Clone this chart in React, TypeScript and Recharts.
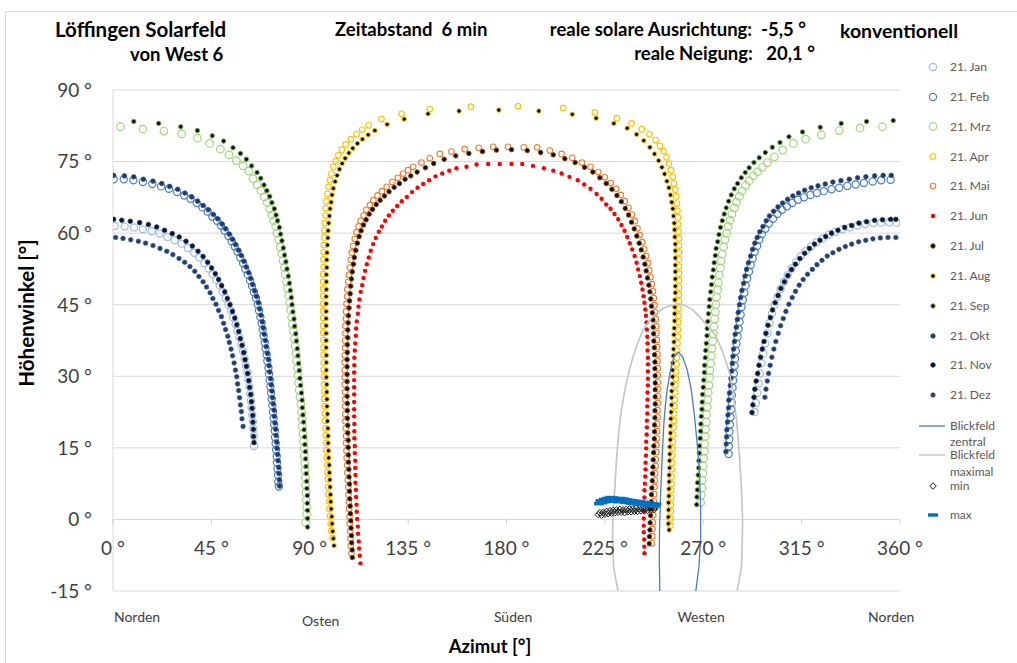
import { ScatterChart, Scatter, XAxis, YAxis, CartesianGrid } from 'recharts';

type Pt = [number, number];

// Sonnenbahnen, je [Azimut, Höhenwinkel]
const janLeft: Pt[] = [[0.8,61.5],[5.3,61.4],[9.6,61.2],[13.7,60.8],[17.7,60.4],[21.3,59.9],[24.9,59.2],[28.2,58.5],[31.4,57.8],[34.3,56.9],[37.1,55.9],[39.5,54.9],[41.8,53.7],[43.8,52.6],[45.6,51.4],[47.3,50.2],[48.8,49.0],[50.2,47.7],[51.5,46.4],[52.8,45.0],[54.0,43.7],[55.0,42.3],[56.1,40.9],[57.0,39.5],[57.9,38.1],[58.7,36.6],[59.5,35.2],[60.2,33.7],[60.8,32.2],[61.5,30.8],[61.9,29.3],[62.4,27.8],[62.8,26.3],[63.1,24.9],[63.4,23.4],[63.7,21.9],[64.0,20.5],[64.2,19.0],[64.4,17.5],[64.5,15.4]];
const janRight: Pt[] = [[293.5,22.5],[294.1,24.4],[294.7,26.5],[295.3,28.5],[295.9,30.6],[296.7,32.7],[297.4,34.8],[298.4,36.9],[299.3,39.0],[300.3,41.1],[301.4,43.1],[302.6,45.0],[304.0,46.7],[305.4,48.3],[306.9,49.8],[308.6,51.2],[310.4,52.6],[312.4,53.9],[314.5,55.1],[316.8,56.2],[319.3,57.2],[321.8,58.1],[324.6,58.9],[327.5,59.7],[330.5,60.3],[333.7,60.8],[337.1,61.2],[340.6,61.6],[344.1,61.9],[347.8,62.1],[351.4,62.2],[355.1,62.3],[358.4,62.2]];

const febLeft: Pt[] = [[0.3,71.3],[4.9,71.3],[9.3,71.1],[13.7,70.7],[18.0,70.3],[22.0,69.8],[25.6,69.3],[29.3,68.6],[32.6,67.9],[35.5,67.2],[38.3,66.3],[40.9,65.4],[43.3,64.5],[45.4,63.5],[47.6,62.6],[49.4,61.6],[51.1,60.5],[52.8,59.4],[54.3,58.3],[55.7,57.2],[57.0,56.1],[58.2,54.9],[59.5,53.7],[60.5,52.5],[61.6,51.3],[62.7,50.1],[63.6,48.9],[64.5,47.6],[65.4,46.4],[66.2,45.1],[66.8,43.8],[67.4,42.4],[68.0,41.1],[68.5,39.8],[68.9,38.5],[69.4,37.1],[69.8,35.8],[70.3,34.5],[70.6,33.2],[71.1,31.8],[71.4,30.5],[71.7,29.2],[72.0,27.8],[72.3,26.5],[72.6,25.2],[72.9,23.9],[73.2,22.5],[73.5,21.2],[73.7,19.9],[74.0,18.6],[74.1,17.2],[74.4,15.9],[74.6,14.6],[74.9,13.2],[75.0,11.9],[75.2,10.6],[75.5,9.3],[75.6,7.9],[75.9,6.9]];
const febRight: Pt[] = [[281.6,13.7],[281.7,15.3],[281.9,16.8],[282.0,18.4],[282.2,19.9],[282.5,21.4],[282.7,23.0],[283.0,24.5],[283.1,26.0],[283.4,27.6],[283.7,29.1],[284.0,30.6],[284.3,32.2],[284.6,33.7],[284.9,35.3],[285.2,36.8],[285.7,38.3],[286.2,39.9],[286.6,41.4],[287.1,42.9],[287.5,44.5],[288.1,46.0],[288.8,47.5],[289.4,49.0],[290.1,50.5],[290.9,51.9],[291.7,53.3],[292.6,54.7],[293.5,56.1],[294.6,57.3],[295.6,58.6],[296.8,59.8],[298.4,60.9],[300.0,62.0],[301.9,63.0],[303.9,64.0],[306.0,64.9],[308.3,65.6],[310.7,66.3],[313.3,67.0],[316.1,67.5],[319.0,68.0],[322.0,68.4],[325.2,68.8],[328.7,69.2],[332.2,69.5],[335.9,69.9],[339.7,70.2],[343.5,70.5],[347.5,70.8],[351.4,71.1],[355.7,71.2]];

const mrzLeft: Pt[] = [[3.4,82.3],[13.7,81.8],[23.3,81.4],[31.4,80.8],[38.6,79.9],[44.2,78.8],[49.1,77.6],[53.1,76.4],[56.4,75.2],[59.5,74.1],[62.1,73.0],[64.0,71.4],[65.9,70.1],[67.7,68.9],[69.2,67.6],[70.6,66.4],[71.7,65.1],[72.7,63.8],[73.5,62.6],[74.4,61.4],[75.0,60.0],[75.8,58.6],[76.5,57.1],[77.2,55.7],[77.8,54.2],[78.4,52.8],[78.8,51.4],[79.4,49.8],[79.9,48.4],[80.4,46.9],[80.8,45.4],[81.3,43.9],[81.7,42.4],[82.0,40.9],[82.5,39.4],[83.0,37.8],[83.3,36.3],[83.7,34.8],[84.0,33.2],[84.3,31.7],[84.6,30.2],[84.9,28.6],[85.2,27.1],[85.5,25.6],[85.9,24.1],[86.2,22.5],[86.5,21.0],[86.6,19.5],[86.9,17.9],[87.1,16.4],[87.4,14.9],[87.5,13.3],[87.7,11.8],[87.8,10.3],[88.0,8.7],[88.1,7.2],[88.3,5.6],[88.4,4.1],[88.6,2.6],[88.6,1.1],[88.1,-0.6]];
const mrzRight: Pt[] = [[268.8,3.5],[269.1,5.1],[269.4,6.6],[269.5,8.2],[269.8,9.7],[270.0,11.2],[270.2,12.8],[270.5,14.3],[270.6,15.8],[270.9,17.4],[271.1,18.9],[271.4,20.4],[271.5,22.0],[271.8,23.5],[272.1,25.1],[272.3,26.6],[272.6,28.1],[272.9,29.7],[273.0,31.2],[273.4,32.7],[273.7,34.3],[274.0,35.8],[274.3,37.3],[274.6,38.9],[274.9,40.4],[275.2,42.0],[275.5,43.5],[275.8,45.0],[276.1,46.6],[276.6,48.1],[276.9,49.6],[277.3,51.2],[277.8,52.7],[278.2,54.2],[278.7,55.6],[279.3,57.1],[279.9,58.6],[280.7,60.0],[281.4,61.4],[282.2,62.7],[283.1,64.0],[284.2,65.3],[285.2,66.5],[286.5,67.7],[287.8,68.8],[289.4,70.0],[291.0,71.0],[292.9,72.0],[294.9,72.9],[297.0,73.8],[299.4,74.8],[302.5,76.0],[306.3,77.4],[311.2,78.8],[316.8,79.7],[324.0,80.6],[332.2,81.5],[341.7,82.0],[352.0,82.3]];

const aprPath: Pt[] = [[100.4,-3.9],[99.9,-2.4],[99.6,-0.9],[99.3,0.7],[99.0,2.2],[98.9,3.8],[98.6,5.3],[98.4,6.8],[98.3,8.4],[98.1,9.9],[98.0,11.4],[97.8,13.0],[97.6,14.5],[97.5,16.0],[97.3,17.6],[97.2,19.1],[97.0,20.7],[97.0,22.2],[96.9,23.7],[96.7,25.3],[96.7,26.8],[96.6,28.3],[96.6,29.9],[96.4,31.4],[96.4,32.9],[96.3,34.5],[96.3,36.0],[96.3,37.6],[96.1,39.1],[96.1,40.6],[96.1,42.2],[96.1,43.7],[96.1,45.2],[96.1,46.8],[96.1,48.3],[96.1,49.8],[96.1,51.4],[96.3,52.9],[96.3,54.5],[96.4,56.0],[96.4,57.5],[96.6,59.1],[96.7,60.6],[96.9,62.1],[97.2,63.7],[97.3,65.2],[97.6,66.7],[98.1,68.2],[98.6,69.7],[99.2,71.1],[99.9,72.5],[100.8,73.9],[101.9,75.1],[103.1,76.3],[104.7,77.5],[106.5,78.6],[108.8,79.7],[111.4,80.7],[114.0,81.7],[117.0,82.6],[122.8,83.9],[132.0,85.0],[144.9,86.0],[163.7,86.5],[185.3,86.6],[205.9,86.2],[220.4,85.3],[230.5,84.1],[237.2,83.0],[241.9,81.8],[245.4,80.7],[248.2,79.5],[250.2,78.3],[251.8,77.2],[253.2,75.9],[254.3,74.6],[255.2,73.2],[256.0,71.8],[256.6,70.4],[257.2,69.1],[257.6,67.7],[258.0,66.2],[258.2,64.7],[258.4,63.3],[258.5,61.8],[258.7,60.3],[258.9,58.9],[258.9,57.4],[258.9,55.9],[258.9,54.5],[258.9,53.0],[258.9,51.5],[258.9,50.1],[258.9,48.6],[258.9,47.1],[258.9,45.7],[258.7,44.2],[258.7,42.7],[258.5,41.3],[258.5,39.8],[258.4,38.3],[258.2,36.9],[258.1,35.4],[257.9,33.9],[257.8,32.5],[257.6,31.0],[257.5,29.5],[257.3,28.1],[257.2,26.6],[257.0,25.1],[256.9,23.7],[256.7,22.2],[256.6,20.7],[256.4,19.3],[256.3,17.8],[256.1,16.3],[256.0,14.9],[255.8,13.4],[255.8,11.9],[255.6,10.5],[255.5,9.0],[255.5,7.5],[255.3,6.1],[255.3,4.6],[255.2,3.1],[255.2,1.7],[255.0,0.2],[255.0,-1.3]];

const maiPath: Pt[] = [[109.1,-7.1],[108.8,-5.5],[108.6,-4.0],[108.5,-2.5],[108.3,-0.9],[108.2,0.6],[108.0,2.2],[107.9,3.7],[107.7,5.2],[107.6,6.8],[107.4,8.3],[107.2,9.8],[107.1,11.4],[106.9,12.9],[106.8,14.4],[106.6,16.0],[106.6,17.5],[106.5,19.1],[106.3,20.6],[106.3,22.1],[106.2,23.7],[106.2,25.2],[106.2,26.7],[106.0,28.3],[106.0,29.8],[106.0,31.3],[106.0,32.9],[106.0,34.4],[106.2,36.0],[106.2,37.5],[106.3,39.0],[106.3,40.6],[106.5,42.1],[106.6,43.6],[106.8,45.2],[107.1,46.7],[107.2,48.2],[107.6,49.8],[107.9,51.3],[108.3,52.8],[108.8,54.4],[109.2,55.9],[109.8,57.3],[110.6,58.8],[111.4,60.2],[112.3,61.4],[113.3,62.6],[114.6,63.7],[115.9,64.9],[117.5,65.9],[119.1,66.9],[121.0,67.9],[123.0,68.8],[125.2,69.7],[127.8,70.7],[130.3,71.6],[132.7,72.5],[135.0,73.2],[137.3,73.9],[141.1,74.8],[144.9,75.7],[149.5,76.6],[154.8,77.1],[160.9,77.6],[167.3,77.9],[173.9,78.1],[180.7,78.1],[187.9,78.0],[194.0,78.0],[199.8,77.3],[205.2,76.6],[210.1,75.8],[214.5,74.8],[218.4,73.9],[222.0,72.8],[225.0,71.7],[227.7,70.5],[230.2,69.3],[232.3,68.0],[234.1,66.7],[235.8,65.3],[237.4,63.9],[238.7,62.5],[239.9,61.0],[241.0,59.6],[242.1,58.1],[243.0,56.6],[243.9,55.2],[244.7,53.7],[245.3,52.2],[245.9,50.8],[246.5,49.3],[247.0,47.8],[247.4,46.4],[247.7,44.9],[248.0,43.4],[248.3,42.0],[248.5,40.5],[248.6,39.0],[248.8,37.6],[248.9,36.1],[249.1,34.6],[249.1,33.2],[249.2,31.7],[249.2,30.2],[249.2,28.8],[249.2,27.3],[249.2,25.8],[249.2,24.4],[249.1,22.9],[249.1,21.4],[248.9,20.0],[248.9,18.5],[248.8,17.0],[248.6,15.6],[248.5,14.1],[248.3,12.6],[248.2,11.2],[248.0,9.7],[247.9,8.2],[247.7,6.8],[247.6,5.3],[247.4,3.8],[247.3,2.4],[247.1,0.9],[247.0,-0.6],[246.8,-2.0],[246.7,-3.5],[246.5,-5.0]];

const junPath: Pt[] = [[113.2,-9.2],[112.9,-7.6],[112.6,-6.1],[112.4,-4.6],[112.1,-3.0],[112.0,-1.5],[111.7,0.1],[111.5,1.6],[111.4,3.1],[111.2,4.7],[111.1,6.2],[110.9,7.7],[110.9,9.3],[110.8,10.8],[110.8,12.3],[110.6,13.9],[110.6,15.4],[110.4,17.0],[110.4,18.5],[110.4,20.0],[110.3,21.6],[110.3,23.1],[110.3,24.6],[110.3,26.2],[110.3,27.7],[110.3,29.2],[110.3,30.8],[110.4,32.3],[110.4,33.9],[110.6,35.4],[110.8,36.9],[111.1,38.5],[111.2,40.0],[111.5,41.5],[112.0,43.1],[112.3,44.6],[112.7,46.1],[113.3,47.7],[114.0,49.1],[114.6,50.6],[115.3,52.1],[116.1,53.5],[117.0,54.9],[117.9,56.3],[119.0,57.7],[120.2,59.0],[121.6,60.3],[123.0,61.4],[124.5,62.6],[126.2,63.7],[128.0,64.7],[130.0,65.7],[132.1,66.7],[134.4,67.6],[136.8,68.6],[139.3,69.5],[141.9,70.3],[144.6,71.1],[147.5,71.9],[150.6,72.5],[153.8,73.1],[157.1,73.6],[161.7,73.9],[166.3,74.4],[171.6,74.5],[176.9,74.5],[182.3,74.5],[187.2,74.5],[192.1,74.1],[197.1,73.6],[201.4,73.1],[205.2,72.5],[208.8,71.8],[212.6,71.1],[215.5,70.2],[218.4,69.3],[221.2,68.2],[223.5,67.2],[225.6,66.0],[227.6,65.1],[229.4,64.0],[231.1,62.9],[232.6,61.7],[234.0,60.5],[235.2,59.2],[236.4,57.9],[237.5,56.6],[238.6,55.2],[239.5,53.8],[240.2,52.4],[241.0,51.0],[241.6,49.6],[242.2,48.2],[242.7,46.8],[243.1,45.4],[243.5,44.0],[243.8,42.7],[244.1,41.3],[244.2,39.8],[244.4,38.3],[244.5,36.9],[244.5,35.4],[244.7,33.9],[244.7,32.5],[244.7,31.0],[244.7,29.5],[244.7,28.1],[244.5,26.6],[244.5,25.1],[244.4,23.7],[244.4,22.2],[244.2,20.7],[244.2,19.3],[244.1,17.8],[243.9,16.3],[243.9,14.9],[243.8,13.4],[243.6,11.9],[243.6,10.5],[243.5,9.0],[243.3,7.5],[243.1,6.1],[243.1,4.6],[243.0,3.1],[242.8,1.7],[242.8,0.2],[242.8,-1.3],[242.8,-2.7],[243.0,-4.2],[243.0,-5.7],[243.1,-7.1]];

const julPath: Pt[] = [[109.5,-8.0],[109.4,-6.4],[109.2,-4.9],[109.1,-3.4],[108.9,-1.8],[108.8,-0.3],[108.6,1.2],[108.5,2.8],[108.3,4.3],[108.2,5.9],[108.2,7.4],[108.0,8.9],[107.9,10.5],[107.7,12.0],[107.7,13.5],[107.6,15.1],[107.6,16.6],[107.4,18.1],[107.4,19.7],[107.2,21.2],[107.2,22.8],[107.2,24.3],[107.1,25.8],[107.1,27.4],[107.1,28.9],[107.1,30.4],[107.1,32.0],[107.1,33.5],[107.2,35.0],[107.2,36.6],[107.4,38.1],[107.4,39.7],[107.6,41.2],[107.7,42.7],[108.0,44.3],[108.2,45.8],[108.5,47.3],[108.8,48.9],[109.1,50.4],[109.5,51.9],[110.0,53.5],[110.4,54.9],[111.1,56.4],[111.8,57.9],[112.6,59.3],[113.5,60.5],[114.6,61.7],[115.8,62.8],[117.2,64.0],[118.7,65.0],[120.4,66.0],[122.2,66.9],[124.2,67.8],[126.3,68.7],[128.6,69.6],[131.0,70.4],[133.6,71.3],[136.2,72.0],[139.1,72.8],[142.9,73.7],[146.7,74.6],[151.5,75.5],[156.8,76.2],[162.8,76.7],[169.0,77.1],[175.4,77.4],[182.3,77.5],[189.5,77.3],[195.6,76.9],[201.4,76.4],[206.7,75.6],[211.4,74.8],[215.7,73.8],[219.5,72.8],[222.7,71.6],[225.6,70.4],[228.2,69.2],[230.5,67.9],[232.5,66.6],[234.3,65.2],[235.8,63.8],[237.2,62.3],[238.4,60.9],[239.6,59.4],[240.7,57.9],[241.6,56.5],[242.5,55.0],[243.3,53.5],[243.9,52.1],[244.5,50.6],[245.1,49.1],[245.6,47.7],[246.0,46.2],[246.3,44.7],[246.7,43.3],[247.0,41.8],[247.1,40.3],[247.3,38.9],[247.4,37.4],[247.6,36.0],[247.7,34.5],[247.9,33.0],[247.9,31.6],[248.0,30.1],[248.0,28.6],[248.0,27.2],[248.0,25.7],[248.0,24.2],[247.9,22.8],[247.9,21.3],[247.7,19.8],[247.7,18.4],[247.6,16.9],[247.4,15.4],[247.3,14.0],[247.1,12.5],[247.0,11.0],[246.8,9.6],[246.7,8.1],[246.5,6.6],[246.3,5.2],[246.2,3.7],[246.0,2.2],[245.9,0.8],[245.7,-0.7],[245.6,-2.2],[245.4,-3.6],[245.3,-5.1]];

const augPath: Pt[] = [[101.1,-5.5],[100.8,-4.0],[100.5,-2.5],[100.2,-0.9],[100.1,0.6],[99.8,2.2],[99.6,3.7],[99.5,5.2],[99.3,6.8],[99.2,8.3],[99.0,9.8],[98.9,11.4],[98.7,12.9],[98.6,14.4],[98.4,16.0],[98.4,17.5],[98.3,19.1],[98.1,20.6],[98.1,22.1],[97.9,23.7],[97.9,25.2],[97.8,26.7],[97.8,28.3],[97.6,29.8],[97.6,31.3],[97.6,32.9],[97.6,34.4],[97.5,36.0],[97.5,37.5],[97.5,39.0],[97.5,40.6],[97.5,42.1],[97.5,43.6],[97.5,45.2],[97.5,46.7],[97.6,48.2],[97.6,49.8],[97.6,51.3],[97.8,52.8],[97.8,54.4],[97.9,55.9],[98.1,57.5],[98.3,59.0],[98.4,60.5],[98.7,62.1],[99.0,63.6],[99.3,65.1],[99.8,66.5],[100.2,68.0],[100.8,69.4],[101.6,70.8],[102.5,72.1],[103.6,73.4],[104.8,74.6],[106.2,75.7],[107.9,76.8],[109.7,77.8],[111.8,78.8],[114.1,79.7],[116.7,80.6],[119.8,81.5],[125.4,82.8],[133.2,83.9],[144.1,85.0],[158.3,85.6],[176.5,85.8],[194.8,85.6],[210.1,84.9],[221.0,84.1],[229.1,83.0],[235.2,82.0],[239.5,80.7],[242.8,79.4],[245.6,78.0],[247.7,76.6],[249.6,75.2],[251.1,73.8],[252.3,72.4],[253.4,70.9],[254.3,69.5],[255.0,68.0],[255.6,66.5],[256.1,65.1],[256.4,63.6],[256.7,62.1],[256.9,60.7],[257.0,59.2],[257.2,57.7],[257.2,56.3],[257.2,54.8],[257.2,53.3],[257.2,51.9],[257.2,50.4],[257.2,48.9],[257.2,47.5],[257.0,46.0],[257.0,44.5],[256.9,43.1],[256.9,41.6],[256.7,40.1],[256.6,38.7],[256.6,37.2],[256.4,35.7],[256.3,34.3],[256.1,32.8],[256.0,31.3],[256.0,29.9],[255.8,28.4],[255.6,26.9],[255.5,25.5],[255.5,24.0],[255.3,22.5],[255.2,21.1],[255.0,19.6],[255.0,18.1],[254.9,16.7],[254.7,15.2],[254.7,13.7],[254.6,12.3],[254.6,10.8],[254.4,9.3],[254.4,7.9],[254.3,6.4],[254.3,4.9],[254.1,3.5],[254.1,2.0],[254.0,0.5],[254.0,-0.9],[254.4,-2.2]];

const sepLeft: Pt[] = [[9.5,83.4],[20.9,83.0],[31.0,82.3],[38.6,81.5],[45.4,80.4],[50.6,79.3],[54.9,77.9],[58.3,76.7],[61.0,75.5],[63.4,74.1],[65.9,72.7],[67.6,71.5],[69.1,70.1],[70.4,68.9],[71.7,67.7],[72.7,66.4],[73.8,65.1],[74.6,63.8],[75.3,62.6],[76.1,61.2],[76.7,59.8],[77.3,58.4],[77.9,56.9],[78.5,55.4],[79.1,54.0],[79.6,52.5],[80.2,51.0],[80.7,49.5],[81.1,48.0],[81.6,46.5],[81.9,45.0],[82.3,43.5],[82.8,42.0],[83.1,40.5],[83.6,38.9],[83.9,37.4],[84.3,35.8],[84.6,34.3],[84.9,32.7],[85.2,31.2],[85.5,29.6],[85.8,28.1],[86.2,26.5],[86.5,25.0],[86.6,23.4],[86.9,21.9],[87.2,20.4],[87.4,18.8],[87.7,17.3],[87.8,15.7],[88.0,14.2],[88.1,12.7],[88.3,11.1],[88.4,9.6],[88.6,8.0],[88.7,6.5],[88.9,5.0],[88.9,3.4],[89.0,1.9],[89.0,0.2],[89.0,-1.6]];
const sepRight: Pt[] = [[267.0,3.1],[267.1,4.7],[267.3,6.2],[267.4,7.7],[267.7,9.3],[267.9,10.8],[268.0,12.3],[268.2,13.9],[268.3,15.4],[268.6,17.0],[268.8,18.5],[268.9,20.0],[269.1,21.6],[269.4,23.1],[269.5,24.6],[269.7,26.2],[270.0,27.7],[270.2,29.2],[270.5,30.8],[270.6,32.3],[270.9,33.9],[271.1,35.4],[271.4,36.9],[271.7,38.5],[271.8,40.0],[272.1,41.5],[272.4,43.1],[272.7,44.6],[273.0,46.1],[273.4,47.7],[273.8,49.2],[274.1,50.8],[274.6,52.3],[275.0,53.8],[275.5,55.3],[275.9,56.8],[276.6,58.2],[277.2,59.7],[277.9,61.2],[278.7,62.6],[279.6,64.0],[280.5,65.3],[281.6,66.7],[282.8,68.0],[284.2,69.3],[285.7,70.4],[287.4,71.6],[289.2,72.7],[291.0,73.7],[293.2,74.8],[295.6,75.8],[298.4,76.9],[301.6,78.0],[305.1,79.0],[309.2,80.2],[315.4,81.2],[323.5,82.2],[333.1,83.0],[344.7,83.4],[356.9,83.6]];

const oktLeft: Pt[] = [[0.3,72.1],[5.2,72.0],[9.5,71.8],[13.9,71.3],[18.3,70.9],[22.3,70.4],[25.9,69.8],[29.6,69.2],[32.9,68.4],[36.0,67.6],[38.7,66.7],[41.2,65.8],[43.6,64.9],[45.9,63.9],[47.9,63.0],[49.9,61.9],[51.5,60.9],[53.2,59.8],[54.7,58.7],[56.1,57.6],[57.5,56.4],[58.7,55.3],[59.9,54.1],[61.0,52.9],[62.1,51.7],[63.0,50.5],[63.9,49.2],[64.8,47.9],[65.7,46.7],[66.5,45.4],[67.1,44.1],[67.7,42.8],[68.3,41.4],[68.8,40.1],[69.2,38.8],[69.7,37.5],[70.1,36.2],[70.6,34.8],[71.1,33.5],[71.4,32.2],[71.7,30.9],[72.1,29.5],[72.4,28.2],[72.7,26.9],[73.0,25.5],[73.3,24.2],[73.7,22.9],[73.8,21.6],[74.1,20.2],[74.4,18.9],[74.6,17.6],[74.9,16.2],[75.0,14.9],[75.3,13.6],[75.5,12.3],[75.8,10.9],[75.9,9.6],[76.1,8.3],[76.2,7.0]];
const oktRight: Pt[] = [[280.4,14.2],[280.5,15.8],[280.7,17.3],[280.8,18.8],[281.1,20.4],[281.3,21.9],[281.6,23.4],[281.7,25.0],[282.0,26.5],[282.4,28.1],[282.7,29.6],[283.0,31.1],[283.3,32.7],[283.6,34.2],[283.9,35.7],[284.3,37.3],[284.6,38.8],[285.1,40.3],[285.6,41.9],[286.0,43.4],[286.6,45.0],[287.1,46.5],[287.7,48.0],[288.5,49.5],[289.1,51.0],[289.8,52.4],[290.7,53.8],[291.7,55.2],[292.6,56.6],[293.6,57.9],[294.7,59.1],[295.9,60.3],[297.3,61.4],[298.8,62.6],[300.3,63.6],[302.2,64.6],[304.2,65.5],[306.3,66.3],[308.6,67.1],[311.0,67.8],[313.6,68.4],[316.4,69.0],[319.4,69.5],[322.5,69.9],[325.8,70.3],[329.3,70.7],[333.0,71.0],[336.8,71.3],[340.6,71.6],[344.4,71.8],[348.4,72.0],[352.3,72.1],[356.0,72.1]];

const novLeft: Pt[] = [[0.3,62.9],[4.0,62.7],[7.9,62.5],[12.2,62.2],[16.2,61.8],[20.0,61.3],[23.6,60.6],[27.1,59.9],[30.3,59.2],[33.4,58.3],[36.3,57.3],[38.9,56.2],[41.2,55.1],[43.3,53.9],[45.1,52.7],[46.8,51.5],[48.3,50.3],[49.7,49.0],[51.1,47.7],[52.3,46.3],[53.5,45.0],[54.6,43.6],[55.7,42.2],[56.6,40.8],[57.5,39.4],[58.2,37.9],[59.0,36.5],[59.8,35.0],[60.4,33.5],[61.0,32.1],[61.6,30.6],[62.1,29.1],[62.5,27.7],[63.0,26.2],[63.3,24.7],[63.6,23.3],[63.9,21.8],[64.0,20.4],[64.2,18.9],[64.3,17.4],[64.5,16.1]];
const novRight: Pt[] = [[292.3,22.4],[292.7,24.0],[293.2,25.6],[293.6,27.3],[294.2,29.0],[294.9,30.6],[295.5,32.3],[296.2,34.0],[297.0,35.7],[297.8,37.3],[298.7,39.0],[299.6,40.7],[300.7,42.3],[301.7,43.9],[302.9,45.4],[304.2,46.9],[305.5,48.4],[307.1,49.8],[308.7,51.1],[310.4,52.4],[312.2,53.5],[314.2,54.7],[316.4,55.8],[318.6,56.8],[320.9,57.7],[323.4,58.5],[326.0,59.3],[328.7,60.0],[331.6,60.6],[334.7,61.2],[337.9,61.6],[341.2,62.1],[344.7,62.4],[348.4,62.7],[352.0,62.8],[355.7,62.9],[358.1,62.9]];

const dezLeft: Pt[] = [[1.2,59.1],[4.6,58.9],[8.1,58.6],[11.6,58.3],[14.9,57.9],[18.3,57.4],[21.5,56.8],[24.6,56.2],[27.4,55.5],[30.2,54.7],[32.8,53.9],[35.2,53.0],[37.4,52.0],[39.3,50.9],[41.2,49.8],[42.8,48.7],[44.4,47.5],[45.7,46.3],[47.1,45.1],[48.3,43.8],[49.6,42.5],[50.6,41.1],[51.5,39.8],[52.5,38.4],[53.2,37.1],[54.0,35.7],[54.7,34.3],[55.4,32.8],[56.0,31.3],[56.6,29.9],[57.0,28.4],[57.5,27.0],[57.9,25.5],[58.3,24.0],[58.7,22.6],[59.0,21.1],[59.5,19.5]];
const dezRight: Pt[] = [[298.2,25.6],[298.7,27.3],[299.3,29.0],[299.9,30.6],[300.6,32.3],[301.4,34.0],[302.3,35.7],[303.2,37.3],[304.3,39.0],[305.4,40.6],[306.6,42.1],[307.8,43.6],[309.2,45.1],[310.7,46.5],[312.2,47.8],[313.9,49.1],[315.7,50.3],[317.7,51.4],[319.9,52.4],[322.0,53.4],[324.3,54.3],[326.7,55.2],[329.3,55.9],[332.1,56.6],[335.0,57.2],[337.9,57.7],[341.1,58.2],[344.3,58.5],[347.6,58.8],[351.0,59.0],[354.5,59.1],[358.1,59.1]];

// Blickfeld-Grenzen
const blickZentral: Pt[] = [[250.1,-15],[249.9,-8],[250.0,-2],[250.4,4],[250.9,9.7],[251.4,15],[252.0,20.2],[252.7,24],[253.5,27.2],[255.0,31.3],[256.6,34.1],[258.5,35.1],[260.6,34.1],[262.7,31.3],[264.5,27.2],[266.0,21.6],[267.2,16.0],[268.3,9.7],[268.8,2.7],[268.8,-4],[268.0,-10],[266.6,-15]];
const blickMaximal: Pt[] = [[231.0,-15],[229.0,-10],[228.5,-4],[228.8,2],[229.5,6.1],[230.2,11.7],[231.0,16.6],[232.3,22],[234.1,27.1],[236.0,31],[237.9,34.1],[240.2,37.2],[242.5,39.7],[245.5,41.8],[248.6,43.2],[252.0,44.3],[255.5,44.9],[258.5,45.1],[262.0,44.8],[265.5,43.8],[268.4,42.4],[272.3,40.4],[276.0,38.3],[279.3,34.6],[282.1,30.6],[284.0,25.4],[285.4,20.1],[286.6,13],[287.5,6.1],[288.0,0],[287.8,-5],[287.5,-10],[285.5,-15]];

const minPts: Pt[] = [[222.0,1.0],[222.8,1.4],[223.5,0.9],[224.3,1.5],[225.0,1.1],[225.8,1.7],[226.5,1.2],[227.3,1.8],[228.0,1.3],[228.8,1.9],[229.5,1.4],[230.3,2.0],[231.0,1.5],[231.8,2.1],[232.5,1.5],[233.3,2.0],[234.0,1.4],[234.8,2.1],[235.5,1.6],[236.3,2.2],[237.0,1.6],[237.8,2.2],[238.5,1.7],[239.3,2.3],[240.0,1.7],[240.8,2.3],[241.5,1.8],[242.3,2.4],[243.0,1.8],[243.8,2.4],[244.5,1.9],[245.3,2.5],[246.0,2.0],[246.8,2.5],[247.5,2.1],[248.3,2.6]];
const maxPts: Pt[] = [[222.3,3.3],[223.0,3.9],[223.8,3.5],[224.5,4.2],[225.3,3.7],[226.0,4.4],[226.8,3.9],[227.5,4.6],[228.3,4.0],[229.0,4.5],[229.8,3.8],[230.5,4.3],[231.3,3.7],[232.0,4.4],[232.8,3.9],[233.5,4.3],[234.3,3.6],[235.0,4.1],[235.8,3.5],[236.5,4.0],[237.3,3.4],[238.0,3.9],[238.8,3.3],[239.5,3.8],[240.3,3.2],[241.0,3.7],[241.8,3.1],[242.5,3.6],[243.3,3.0],[244.0,3.5],[244.8,2.9],[245.5,3.4],[246.3,2.9],[247.0,3.3],[247.8,2.8],[248.5,3.2]];

const xTicks = [0, 45, 90, 135, 180, 225, 270, 315, 360];
const yTicks = [-15, 0, 15, 30, 45, 60, 75, 90];
const monthNames = ['21. Jan', '21. Feb', '21. Mrz', '21. Apr', '21. Mai', '21. Jun', '21. Jul', '21. Aug', '21. Sep', '21. Okt', '21. Nov', '21. Dez'];
const compass = [
  { label: 'Norden', az: 11 },
  { label: 'Osten', az: 95 },
  { label: 'Süden', az: 183 },
  { label: 'Westen', az: 269 },
  { label: 'Norden', az: 356 },
];

const W = 1017;
const H = 663;
const PLOT = { left: 113, top: 90, right: 900, bottom: 591 };
const ZERO_Y = PLOT.top + (90 / 105) * (PLOT.bottom - PLOT.top);
const azToPx = (az: number) => PLOT.left + (az / 360) * (PLOT.right - PLOT.left);
const FONT = 'Lato, "Open Sans", sans-serif';
const NB = '\u00a0';

const toXY = (...parts: Pt[][]) => parts.flat().map(([x, y]) => ({ x, y }));

type Mk = { r: number; fill: string; stroke: string; sw: number };
const styles: Mk[] = [
  { r: 3.6, fill: 'none', stroke: '#9fbbe4', sw: 1.2 },
  { r: 3.6, fill: 'none', stroke: '#4a7ec4', sw: 1.2 },
  { r: 3.8, fill: 'none', stroke: '#a3d47f', sw: 1.2 },
  { r: 2.8, fill: 'none', stroke: '#ffc000', sw: 1.1 },
  { r: 2.8, fill: 'none', stroke: '#ed7d31', sw: 1.1 },
  { r: 2.2, fill: '#ff0000', stroke: 'none', sw: 0 },
  { r: 2.2, fill: '#000000', stroke: '#843c0c', sw: 1 },
  { r: 2.2, fill: '#000000', stroke: '#ffc000', sw: 1 },
  { r: 2.2, fill: '#000000', stroke: '#70ad47', sw: 1 },
  { r: 2.3, fill: '#1f3864', stroke: '#2f5597', sw: 0.8 },
  { r: 2.3, fill: '#0d1426', stroke: '#1f3864', sw: 0.8 },
  { r: 2.3, fill: '#22406e', stroke: '#2f5597', sw: 0.6 },
];

const monthData = [
  toXY(janLeft, janRight),
  toXY(febLeft, febRight),
  toXY(mrzLeft, mrzRight),
  toXY(aprPath),
  toXY(maiPath),
  toXY(junPath),
  toXY(julPath),
  toXY(augPath),
  toXY(sepLeft, sepRight),
  toXY(oktLeft, oktRight),
  toXY(novLeft, novRight),
  toXY(dezLeft, dezRight),
];

const dot = (m: Mk) => (p: any) => (
  <circle cx={p.cx} cy={p.cy} r={m.r} fill={m.fill} stroke={m.stroke} strokeWidth={m.sw} />
);
const diamond = (cx: number, cy: number) => (
  <path d={`M${cx} ${cy - 3.3}L${cx + 3.3} ${cy}L${cx} ${cy + 3.3}L${cx - 3.3} ${cy}Z`} fill="none" stroke="#1a1a1a" strokeWidth={1} />
);
const dash = (cx: number, cy: number) => <rect x={cx - 5} y={cy - 1.7} width={10} height={3.4} fill="#0070c0" />;
const noShape = () => <g />;

const XTick = ({ x, payload }: any) => (
  <g>
    <line x1={x} x2={x} y1={ZERO_Y} y2={ZERO_Y + 5} stroke="#d0d0d0" />
    <text x={x} y={555} textAnchor="middle" fontSize={19} fill="#404040" fontFamily={FONT}>
      {payload.value} °
    </text>
  </g>
);

const YTick = ({ y, payload }: any) => (
  <text x={92} y={y} dy="0.36em" textAnchor="end" fontSize={19} fill="#404040" fontFamily={FONT}>
    {payload.value} °
  </text>
);

const legendY = [67, 97, 126.5, 156.5, 186, 216, 246, 276, 306, 336, 365, 395];

function Overlay() {
  return (
    <svg width={W} height={H} style={{ position: 'absolute', left: 0, top: 0, pointerEvents: 'none' }}>
      <rect x={5.5} y={11.5} width={1020} height={660} fill="none" stroke="#d9d9d9" />
      <g fontFamily={FONT} fill="#000" fontWeight="bold">
        <text x={55} y={37} fontSize={20.5}>Löffingen Solarfeld</text>
        <text x={130} y={61} fontSize={18.5}>von West 6</text>
        <text x={335} y={36} fontSize={18.5}>{`Zeitabstand${NB}${NB}6 min`}</text>
        <text x={806} y={36} fontSize={18.5} textAnchor="end">{`reale solare Ausrichtung:${NB}${NB}-5,5 °`}</text>
        <text x={815} y={60} fontSize={18.5} textAnchor="end">{`reale Neigung:${NB}${NB}${NB}20,1 °`}</text>
        <text x={840} y={38} fontSize={19.5}>konventionell</text>
        <text x={490} y={653} fontSize={18.5} textAnchor="middle">Azimut [°]</text>
        <text transform="translate(34 313) rotate(-90)" fontSize={20.5} textAnchor="middle">Höhenwinkel [°]</text>
      </g>
      {compass.map((c, i) => (
        <text key={i} x={azToPx(c.az)} y={i === 1 ? 626 : 622} fontSize={14} fill="#404040" textAnchor="middle" fontFamily={FONT}>
          {c.label}
        </text>
      ))}
      <g fontFamily={FONT} fontSize={12} fill="#595959">
        {monthNames.map((n, i) => (
          <g key={n}>
            {dot(styles[i])({ cx: 933, cy: legendY[i] })}
            <text x={950} y={legendY[i]} dy="0.35em">{n}</text>
          </g>
        ))}
        <line x1={919} x2={945} y1={426} y2={426} stroke="#4a7ebb" strokeWidth={1.3} />
        <text x={950} y={426} dy="0.35em">Blickfeld</text>
        <text x={950} y={442} dy="0.35em">zentral</text>
        <line x1={919} x2={945} y1={455} y2={455} stroke="#bfbfbf" strokeWidth={1.3} />
        <text x={950} y={455} dy="0.35em">Blickfeld</text>
        <text x={950} y={472} dy="0.35em">maximal</text>
        {diamond(933, 486)}
        <text x={950} y={486} dy="0.35em">min</text>
        {dash(933, 515)}
        <text x={950} y={515} dy="0.35em">max</text>
      </g>
    </svg>
  );
}

export default function App() {
  return (
    <div style={{ position: 'absolute', left: 0, top: 0, width: W, height: H, background: '#fff' }}>
      <ScatterChart
        width={W}
        height={H}
        margin={{ top: PLOT.top, right: W - PLOT.right, bottom: 42, left: PLOT.left - 60 }}
      >
        <CartesianGrid vertical={false} stroke="#d9d9d9" />
        <XAxis
          type="number"
          dataKey="x"
          domain={[0, 360]}
          ticks={xTicks}
          height={30}
          axisLine={false}
          tickLine={false}
          tick={<XTick />}
          interval={0}
          allowDataOverflow
        />
        <YAxis
          type="number"
          dataKey="y"
          domain={[-15, 90]}
          ticks={yTicks}
          width={60}
          axisLine={{ stroke: '#d9d9d9' }}
          tickLine={false}
          tick={<YTick />}
          interval={0}
          allowDataOverflow
        />
        {monthData.map((d, i) => (
          <Scatter key={monthNames[i]} name={monthNames[i]} data={d} shape={dot(styles[i])} isAnimationActive={false} />
        ))}
        <Scatter
          name="Blickfeld zentral"
          data={toXY(blickZentral)}
          line={{ stroke: '#4a7ebb', strokeWidth: 1.3 }}
          lineType="joint"
          shape={noShape}
          isAnimationActive={false}
        />
        <Scatter
          name="Blickfeld maximal"
          data={toXY(blickMaximal)}
          line={{ stroke: '#c4c4c4', strokeWidth: 1.6 }}
          lineType="joint"
          shape={noShape}
          isAnimationActive={false}
        />
        <Scatter name="min" data={toXY(minPts)} shape={(p: any) => diamond(p.cx, p.cy)} isAnimationActive={false} />
        <Scatter name="max" data={toXY(maxPts)} shape={(p: any) => dash(p.cx, p.cy)} isAnimationActive={false} />
      </ScatterChart>
      <Overlay />
    </div>
  );
}
